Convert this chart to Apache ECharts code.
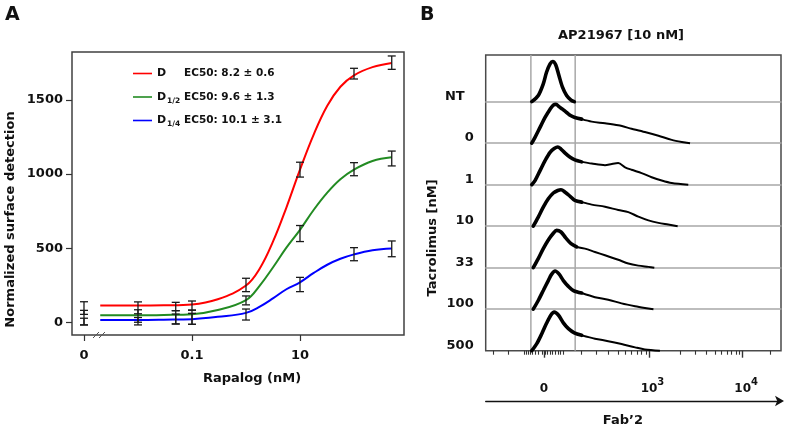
<!DOCTYPE html>
<html><head><meta charset="utf-8">
<script src="https://cdn.jsdelivr.net/npm/echarts@6/dist/echarts.min.js"></script>
<style>html,body{margin:0;padding:0;background:#fff}#c{width:787px;height:427px}</style>
</head><body><div id="c"></div>
<script>
// ---------- Panel A data ----------
const doses   = [0, 0.01, 0.05, 0.1, 1, 10, 100, 500];
const dMean   = [98.5, 100, 109, 115, 254, 1030, 1676, 1750];
const dErr    = [42.5, 40, 28, 31, 45, 50, 36, 45];
const d2Mean  = [34, 45, 36, 37, 150, 600, 1033, 1105];
const d2Err   = [49, 42, 45, 48, 30, 54, 44, 50];
const d4Mean  = [7.5, 10, 25, 26, 55, 257, 461, 497];
const d4Err   = [22.5, 25, 33, 37, 37, 48, 44, 53];
const curveX  = [0.002, 0.01, 0.03, 0.1, 0.3, 1, 1.8, 3.2, 5.6, 10, 18, 32, 56, 100, 220, 500];
const dCurve  = [115, 115, 117, 123, 158, 250, 365, 550, 775, 1030, 1268, 1460, 1588, 1665, 1720, 1748];
const d2Curve = [50, 50, 52, 57, 85, 152, 250, 375, 505, 625, 760, 875, 965, 1030, 1088, 1113];
const d4Curve = [18, 18, 20, 24, 40, 66, 108, 165, 225, 272, 335, 390, 430, 460, 488, 500];
const seriesNames = ['D', 'D1/2', 'D1/4'];
const ec50Text = ['EC50: 8.2 \u00b1 0.6', 'EC50: 9.6 \u00b1 1.3', 'EC50: 10.1 \u00b1 3.1'];
const xTickVals = [0, 0.1, 10];
const xTickLabels = ['0', '0.1', '10'];
const yTicks = [0, 500, 1000, 1500];
const zeroDosePos = 0.001; // where dose 0 sits on the broken log axis

// ---------- Panel B data ----------
const rowLabels = ['NT', '0', '1', '10', '33', '100', '500'];
const gates = [153, 303];
const fabMinor = [26,77,131,139,144,150,158,167,178,190,201,207,218,227,235,244,252,263,325,374,415,449,472,494,513,528,542,658,711,748,776,799,818,833,848,859,963];
const fabMajor = [197, 553, 870];
const fabLabels = ['0', '10^3', '10^4'];
const histX = [
  [156,178,195,206,218,227,237,248,260,274,289,300],
  [156,167,184,201,218,229,238,248,260,274,289,302,325,359,404,449,494,539,585,630,664,692],
  [156,167,184,201,218,232,244,255,269,286,302,325,359,404,427,449,472,494,528,562,596,630,686],
  [161,178,195,212,229,244,255,269,286,302,325,359,404,449,483,517,551,585,618,650],
  [161,178,195,212,229,240,255,271,289,308,336,370,404,449,483,517,551,571],
  [161,178,195,212,223,235,248,263,280,297,325,370,415,460,506,539,568],
  [156,173,190,206,221,232,246,263,280,300,325,370,415,460,506,539,590]
];
const histY = [
  [0,0.15,0.43,0.71,0.91,0.97,0.89,0.63,0.35,0.15,0.04,0],
  [0,0.14,0.38,0.62,0.82,0.92,0.94,0.88,0.82,0.74,0.66,0.62,0.58,0.52,0.48,0.43,0.35,0.27,0.18,0.08,0.03,0],
  [0,0.10,0.34,0.58,0.78,0.87,0.91,0.86,0.76,0.66,0.60,0.55,0.51,0.47,0.50,0.52,0.42,0.36,0.28,0.18,0.10,0.04,0],
  [0,0.22,0.46,0.66,0.80,0.86,0.88,0.82,0.72,0.62,0.58,0.52,0.47,0.39,0.34,0.23,0.14,0.08,0.04,0],
  [0,0.22,0.46,0.67,0.83,0.90,0.86,0.72,0.58,0.50,0.46,0.38,0.30,0.19,0.10,0.05,0.02,0],
  [0,0.21,0.45,0.69,0.84,0.92,0.85,0.69,0.55,0.45,0.39,0.29,0.23,0.14,0.07,0.03,0],
  [0,0.17,0.41,0.66,0.86,0.93,0.86,0.67,0.53,0.43,0.37,0.29,0.23,0.16,0.08,0.03,0]
];

// ---------- build ----------
const FONT = 'DejaVu Sans';
const TXT = '#111';
const colors = ['#ff0000', '#228b22', '#0000ff'];
const L = v => Math.log10(v === 0 ? zeroDosePos : v);
const near = (a, b) => Math.abs(a - b) < 1e-6;

const grids = [{left:72, top:52, width:332, height:283, show:true, borderColor:'#404040', borderWidth:1.5, outerBoundsMode:'none'}];
const xAxes = [{
  type:'value', gridIndex:0, min:-3.222, max:2.926,
  axisLine:{show:false, onZero:false}, splitLine:{show:false},
  axisTick:{show:true, customValues:xTickVals.map(L), length:6, lineStyle:{color:'#333', width:1.2}},
  axisLabel:{customValues:xTickVals.map(L), margin:14, fontSize:13, fontWeight:'bold', fontFamily:FONT, color:TXT,
    formatter:v => { const i = xTickVals.findIndex(t => near(L(t), v)); return i >= 0 ? xTickLabels[i] : ''; }},
  name:'Rapalog (nM)', nameLocation:'middle', nameGap:37,
  nameTextStyle:{fontSize:13, fontWeight:'bold', fontFamily:FONT, color:TXT, padding:[0,0,0,28]}
}];
const yAxes = [{
  type:'value', gridIndex:0, min:-82.8, max:1821.7,
  axisLine:{show:false, onZero:false}, splitLine:{show:false},
  axisTick:{show:true, customValues:yTicks, length:6, lineStyle:{color:'#333', width:1.2}},
  axisLabel:{customValues:yTicks, margin:9, fontSize:13, fontWeight:'bold', fontFamily:FONT, color:TXT,
    formatter:v => String(v)},
  name:'Normalized surface detection', nameLocation:'middle', nameGap:55,
  nameTextStyle:{fontSize:13, fontWeight:'bold', fontFamily:FONT, color:TXT, padding:[0,52,0,0]}
}];
const rowH = 41.5, rowTop0 = 60.2;
for (let i = 0; i < 7; i++) {
  grids.push({left:485.7, top:rowTop0 + rowH * i, width:295.3, height:rowH, outerBoundsMode:'none'});
  xAxes.push({type:'value', gridIndex:i + 1, min:0, max:1000,
    axisLine:{show:i < 6, onZero:false, lineStyle:{color:'#a8a8a8', width:1.5}},
    axisTick:{show:false}, axisLabel:{show:false}, splitLine:{show:false}});
  yAxes.push({type:'value', gridIndex:i + 1, min:0, max:1,
    axisLine:{show:false, onZero:false}, axisTick:{show:false}, splitLine:{show:false},
    axisLabel:{customValues:[0.13], margin:12, fontSize:13, fontWeight:'bold', fontFamily:FONT, color:TXT,
      padding: i === 0 ? [0,9,0,0] : 0, formatter:() => rowLabels[i]}});
}
// frame grid of panel B (index 8)
grids.push({left:485.7, top:55, width:295.3, height:295.7, show:true, borderColor:'#4a4a4a', borderWidth:1.5, outerBoundsMode:'none'});
xAxes.push({type:'value', gridIndex:8, min:0, max:1000, position:'bottom',
  axisLine:{show:false, onZero:false}, splitLine:{show:false}, axisLabel:{show:false},
  axisTick:{show:true, customValues:fabMinor, length:4, lineStyle:{color:'#333', width:1.1}}});
xAxes.push({type:'value', gridIndex:8, min:0, max:1000, position:'bottom',
  axisLine:{show:false, onZero:false}, splitLine:{show:false},
  axisTick:{show:true, customValues:fabMajor, length:7, lineStyle:{color:'#333', width:1.4}},
  axisLabel:{customValues:fabMajor, margin:27,
    formatter:v => { const i = fabMajor.findIndex(t => near(t, v)); const s = fabLabels[i] || '';
      if (s.indexOf('^') < 0) return '{b|' + s + '}';
      const p = s.split('^'); return '{sp| }{b|' + p[0] + '}{s|' + p[1] + '}'; },
    rich:{
      b:{fontSize:12, fontWeight:'bold', fontFamily:FONT, color:TXT, lineHeight:14, padding:[9,0,0,0]},
      s:{fontSize:10, fontWeight:'bold', fontFamily:FONT, color:TXT, lineHeight:11, verticalAlign:'top'},
      sp:{width:7, fontSize:10}
    }}});
xAxes.push({type:'value', gridIndex:8, min:0, max:1000, position:'bottom', offset:50.3,
  axisLine:{show:true, onZero:false, symbol:['none','arrow'], symbolSize:[8,9], symbolOffset:[0,3], lineStyle:{color:'#111', width:1.3}},
  axisTick:{show:false}, axisLabel:{show:false}, splitLine:{show:false},
  name:'Fab\u20192', nameLocation:'middle', nameGap:13,
  nameTextStyle:{fontSize:13, fontWeight:'bold', fontFamily:FONT, color:TXT, padding:[0,21,0,0]}});
yAxes.push({type:'value', gridIndex:8, min:0, max:1,
  axisLine:{show:false, onZero:false}, axisTick:{show:false}, axisLabel:{show:false}, splitLine:{show:false},
  name:'Tacrolimus [nM]', nameLocation:'middle', nameGap:47,
  nameTextStyle:{fontSize:13, fontWeight:'bold', fontFamily:FONT, color:TXT, padding:[0,70,0,0]}});

const series = [];
const curves = [dCurve, d2Curve, d4Curve];
curves.forEach((c, k) => series.push({
  name:seriesNames[k], type:'line', xAxisIndex:0, yAxisIndex:0, smooth:0.4, symbol:'none',
  lineStyle:{color:colors[k], width:2}, itemStyle:{color:colors[k]},
  data:curveX.map((x, i) => [L(x), c[i]]), z:3
}));
const errData = [];
[[dMean, dErr], [d2Mean, d2Err], [d4Mean, d4Err]].forEach(([m, e]) => {
  doses.forEach((d, i) => errData.push([L(d), m[i] - e[i], m[i] + e[i]]));
});
series.push({
  type:'custom', xAxisIndex:0, yAxisIndex:0, z:4, data:errData, silent:true,
  renderItem:(params, api) => {
    const x = api.value(0), lo = api.coord([x, api.value(1)]), hi = api.coord([x, api.value(2)]);
    const w = 4, st = {stroke:'#1a1a1a', lineWidth:1.3};
    return {type:'group', children:[
      {type:'line', shape:{x1:lo[0], y1:lo[1], x2:hi[0], y2:hi[1]}, style:st},
      {type:'line', shape:{x1:lo[0]-w, y1:lo[1], x2:lo[0]+w, y2:lo[1]}, style:st},
      {type:'line', shape:{x1:hi[0]-w, y1:hi[1], x2:hi[0]+w, y2:hi[1]}, style:st}
    ]};
  }
});
series.push({
  type:'custom', xAxisIndex:8, yAxisIndex:8, z:1, silent:true, data:gates.map(g => [g]),
  renderItem:(params, api) => {
    const a = api.coord([api.value(0), 0]), b = api.coord([api.value(0), 1]);
    return {type:'line', shape:{x1:a[0], y1:a[1], x2:b[0], y2:b[1]}, style:{stroke:'#a8a8a8', lineWidth:1.5}};
  }
});
// each histogram: bold peak part up to the upper gate, thinner tail beyond it
histX.forEach((xs, r) => {
  const pts = xs.map((x, i) => [x, histY[r][i]]);
  let cut = xs.findIndex(x => x >= gates[1]);
  if (cut < 0) cut = xs.length - 1;
  series.push({type:'line', xAxisIndex:r + 1, yAxisIndex:r + 1, smooth:0.3, symbol:'none', clip:false, z:5,
    lineStyle:{color:'#000', width:3.6, cap:'round'}, data:pts.slice(0, cut + 1)});
  if (cut < xs.length - 1) series.push({type:'line', xAxisIndex:r + 1, yAxisIndex:r + 1, smooth:0.3, symbol:'none', clip:false, z:5,
    lineStyle:{color:'#000', width:2}, data:pts.slice(cut)});
});

const legendText = {};
seriesNames.forEach((n, k) => {
  const p = n.split('D')[1];
  legendText[n] = '{n|D}' + (p ? '{s|' + p + '}' : '{s| }') + '{e|' + ec50Text[k] + '}';
});

const option = {
  animation:false,
  backgroundColor:'#fff',
  title:[
    {text:'A', left:0, top:1, textStyle:{fontSize:19, fontWeight:'bold', fontFamily:FONT, color:TXT}},
    {text:'B', left:415, top:1, textStyle:{fontSize:19, fontWeight:'bold', fontFamily:FONT, color:TXT}},
    {text:'AP21967 [10 nM]', left:553, top:24, textStyle:{fontSize:13, fontWeight:'bold', fontFamily:FONT, color:TXT}}
  ],
  legend:{data:seriesNames, left:128, top:63, orient:'vertical', icon:'rect', itemWidth:19, itemHeight:1.6,
    itemGap:10, selectedMode:false,
    formatter:n => legendText[n],
    textStyle:{rich:{
      n:{fontSize:11, fontWeight:'bold', fontFamily:FONT, color:TXT, width:10, lineHeight:16},
      s:{fontSize:7.5, fontWeight:'bold', fontFamily:FONT, color:TXT, width:17, lineHeight:8, verticalAlign:'bottom'},
      e:{fontSize:10.5, fontWeight:'bold', fontFamily:FONT, color:TXT, lineHeight:16}
    }}},
  grid:grids, xAxis:xAxes, yAxis:yAxes, series:series,
  graphic:[
    {type:'line', shape:{x1:93, y1:338, x2:99, y2:332}, style:{stroke:'#555', lineWidth:1}},
    {type:'line', shape:{x1:99, y1:338, x2:105, y2:332}, style:{stroke:'#555', lineWidth:1}}
  ]
};
const chart = echarts.init(document.getElementById('c'));
chart.setOption(option);
</script></body></html>
